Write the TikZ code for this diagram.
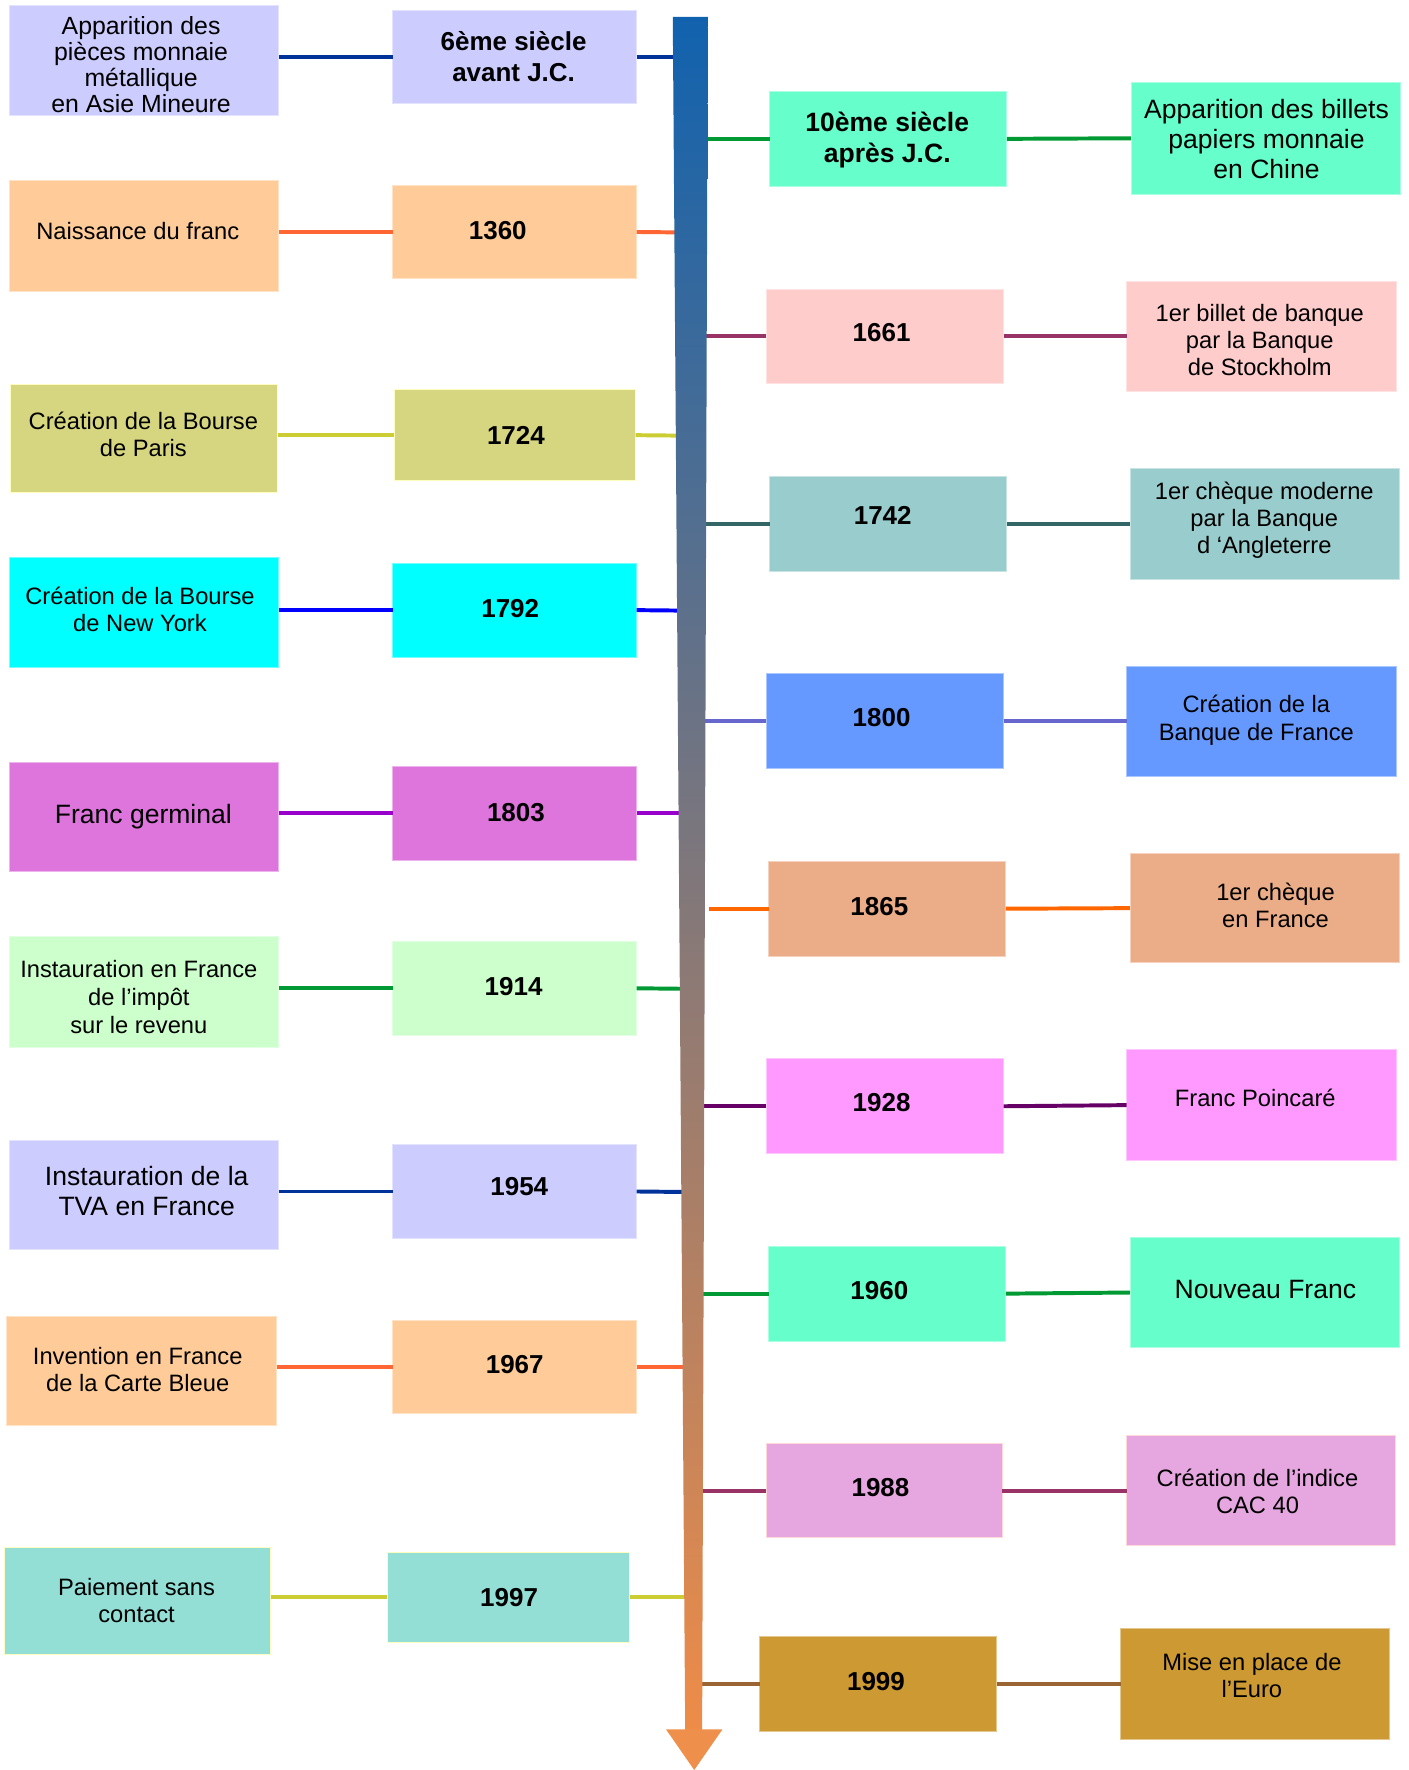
\documentclass[tikz,border=0pt]{standalone}
\usepackage{fontspec}
\setmainfont{Liberation Sans}
\definecolor{lav}{HTML}{CCCCFF}
\definecolor{peach}{HTML}{FFCC99}
\definecolor{khaki}{HTML}{D6D680}
\definecolor{cyanb}{HTML}{00FFFF}
\definecolor{orchidb}{HTML}{DD75DD}
\definecolor{mintl}{HTML}{CCFFCC}
\definecolor{tealb}{HTML}{93DFD6}
\definecolor{aqua}{HTML}{66FFCC}
\definecolor{pinkl}{HTML}{FFCCCC}
\definecolor{grayteal}{HTML}{99CCCC}
\definecolor{blueb}{HTML}{6699FF}
\definecolor{salmonb}{HTML}{EBAD88}
\definecolor{pinkb}{HTML}{FF99FF}
\definecolor{mauveb}{HTML}{E6A6E0}
\definecolor{goldb}{HTML}{CC9933}
\definecolor{navyl}{HTML}{003399}
\definecolor{orangel}{HTML}{FF6633}
\definecolor{olivel}{HTML}{CCCC33}
\definecolor{bluel}{HTML}{0000FF}
\definecolor{purplel}{HTML}{9900CC}
\definecolor{greenl}{HTML}{009933}
\definecolor{maroonl}{HTML}{993366}
\definecolor{tealdl}{HTML}{336666}
\definecolor{periwl}{HTML}{6666CC}
\definecolor{orangeb}{HTML}{FF6600}
\definecolor{plumd}{HTML}{660066}
\definecolor{brownl}{HTML}{996633}
\definecolor{bartop}{HTML}{1162AE}
\definecolor{barmid}{HTML}{7D7088}
\definecolor{barbot}{HTML}{EE8C48}
\definecolor{headc}{HTML}{EE904C}
\tikzset{
  bx/.style={rectangle, inner sep=0pt, outer sep=0pt, anchor=north west,
    line width=0.8pt, fill=#1, draw=#1!55!white},
  wh/.style 2 args={minimum width=#1pt, minimum height=#2pt},
  ev/.style={align=center, inner sep=0pt, font=\fontsize{21}{24}\selectfont},
  evb/.style={align=center, inner sep=0pt, font=\fontsize{23.5}{27}\selectfont},
  yr/.style={align=center, inner sep=0pt, font=\bfseries\fontsize{23}{27}\selectfont},
  conn/.style={line width=3.5pt}
}
\begin{document}
\begin{tikzpicture}[x=1pt,y=-1pt]
\useasboundingbox (0,0) rectangle (1248,1568);

% ---------- left column ----------
\node[bx=lav,wh={239}{97}] (L1) at (8,5) {};
\node[ev, font=\fontsize{22}{23}\selectfont] (L1t) at (125,57) {Apparition des\\pièces monnaie\\métallique\\en Asie Mineure};
\node[bx=lav,wh={216}{83}] (Y1) at (348,9) {};
\node[yr] (Y1t) at (455,50) {6ème siècle\\avant J.C.};

\node[bx=peach,wh={239}{98}] (L2) at (8,160) {};
\node[ev] (L2t) at (122,205) {Naissance du franc};
\node[bx=peach,wh={216}{83}] (Y2) at (348,164) {};
\node[yr] (Y2t) at (441,204) {1360};

\node[bx=khaki,wh={237}{95}, draw=yellow!25!white] (L3) at (9,341) {};
\node[ev] (L3t) at (127,385) {Création de la Bourse\\de Paris};
\node[bx=khaki,wh={214}{81}, draw=yellow!25!white] (Y3) at (349,345) {};
\node[yr] (Y3t) at (457,386) {1724};

\node[bx=cyanb,wh={239}{97}] (L4) at (8,494) {};
\node[ev] (L4t) at (124,540) {Création de la Bourse\\de New York};
\node[bx=cyanb,wh={216}{83}] (Y4) at (348,499) {};
\node[yr] (Y4t) at (452,539) {1792};

\node[bx=orchidb,wh={239}{97}] (L5) at (8,675) {};
\node[evb] (L5t) at (127,723) {Franc germinal};
\node[bx=orchidb,wh={216}{83}] (Y5) at (348,679) {};
\node[yr] (Y5t) at (457,720) {1803};

\node[bx=mintl,wh={239}{98}] (L6) at (8,830) {};
\node[ev, font=\fontsize{21}{25}\selectfont] (L6t) at (123,883) {Instauration en France\\de l’impôt\\sur le revenu};
\node[bx=mintl,wh={216}{83}] (Y6) at (348,834) {};
\node[yr] (Y6t) at (455,874) {1914};

\node[bx=lav,wh={239}{97}] (L7) at (8,1010) {};
\node[evb] (L7t) at (130,1055) {Instauration de la\\TVA en France};
\node[bx=lav,wh={216}{83}] (Y7) at (348,1014) {};
\node[yr] (Y7t) at (460,1051) {1954};

\node[bx=peach,wh={239}{97}] (L8) at (6,1166) {};
\node[ev] (L8t) at (122,1213) {Invention en France\\de la Carte Bleue};
\node[bx=peach,wh={216}{82}] (Y8) at (348,1170) {};
\node[yr] (Y8t) at (456,1209) {1967};

\node[bx=tealb,wh={236}{95}, draw=yellow!25!white] (L9) at (4,1371) {};
\node[ev] (L9t) at (121,1418) {Paiement sans\\contact};
\node[bx=tealb,wh={215}{80}, draw=yellow!25!white] (Y9) at (343,1375) {};
\node[yr] (Y9t) at (451,1415) {1997};

% ---------- right column ----------
\node[bx=aqua,wh={210}{84}] (RY1) at (682,81) {};
\node[yr, font=\bfseries\fontsize{23.5}{27}\selectfont] (RY1t) at (786,124) {10ème siècle\\après J.C.};
\node[bx=aqua,wh={239}{99}] (R1) at (1002,73) {};
\node[evb, font=\fontsize{23.5}{26.5}\selectfont] (R1t) at (1122,123) {Apparition des billets\\papiers monnaie\\en Chine};

\node[bx=pinkl,wh={210}{84}] (RY2) at (679,256) {};
\node[yr] (RY2t) at (781,295) {1661};
\node[bx=pinkl,wh={239}{98}] (R2) at (998,249) {};
\node[ev] (R2t) at (1116,301) {1er billet de banque\\par la Banque\\de Stockholm};

\node[bx=grayteal,wh={210}{84}] (RY3) at (682,422) {};
\node[yr] (RY3t) at (782,457) {1742};
\node[bx=grayteal,wh={239}{98}] (R3) at (1001,415) {};
\node[ev] (R3t) at (1120,461) {1er chèque moderne\\par la Banque\\d ‘Angleterre};

\node[bx=blueb,wh={210}{84}] (RY4) at (679,597) {};
\node[yr] (RY4t) at (781,636) {1800};
\node[bx=blueb,wh={239}{98}] (R4) at (998,590) {};
\node[ev] (R4t) at (1113,638) {Création de la\\Banque de France};

\node[bx=salmonb,wh={210}{84}] (RY5) at (681,763) {};
\node[yr] (RY5t) at (779,803) {1865};
\node[bx=salmonb,wh={239}{97}] (R5) at (1001,756) {};
\node[ev] (R5t) at (1130,802) {1er chèque\\en France};

\node[bx=pinkb,wh={210}{84}] (RY6) at (679,938) {};
\node[yr] (RY6t) at (781,977) {1928};
\node[bx=pinkb,wh={239}{98}] (R6) at (998,930) {};
\node[ev] (R6t) at (1112,973) {Franc Poincaré};

\node[bx=aqua,wh={210}{84}] (RY7) at (681,1104) {};
\node[yr] (RY7t) at (779,1143) {1960};
\node[bx=aqua,wh={239}{98}] (R7) at (1001,1096) {};
\node[evb] (R7t) at (1121,1142) {Nouveau Franc};

\node[bx=mauveb,wh={209}{83}, draw=pink!60!white] (RY8) at (679,1279) {};
\node[yr] (RY8t) at (780,1318) {1988};
\node[bx=mauveb,wh={238}{97}, draw=pink!60!white] (R8) at (998,1272) {};
\node[ev] (R8t) at (1114,1321) {Création de l’indice\\CAC 40};

\node[bx=goldb,wh={210}{84}] (RY9) at (673,1450) {};
\node[yr] (RY9t) at (776,1490) {1999};
\node[bx=goldb,wh={238}{98}] (R9) at (993,1443) {};
\node[ev] (R9t) at (1109,1484) {Mise en place de\\l’Euro};

% ---------- bar attachment points ----------
\coordinate (B1) at (612,50.5);
\coordinate (B2) at (612,206);
\coordinate (B3) at (612,386);
\coordinate (B4) at (612,541);
\coordinate (B5) at (612,720.5);
\coordinate (B6) at (612,876);
\coordinate (B7) at (612,1056);
\coordinate (B8) at (612,1211);
\coordinate (B9) at (614,1415);
\coordinate (C1) at (612,123);
\coordinate (C2) at (612,298);
\coordinate (C3) at (612,464);
\coordinate (C4) at (612,639);
\coordinate (C5) at (628,805);
\coordinate (C6) at (612,980);
\coordinate (C7) at (614,1146);
\coordinate (C8) at (614,1320.5);
\coordinate (C9) at (614,1492);

% ---------- connectors ----------
\draw[conn,navyl]   (L1.east |- Y1.west) -- (Y1.west);  \draw[conn,navyl]   (Y1.east) -- (B1);
\draw[conn,orangel] (L2.east |- Y2.west) -- (Y2.west);  \draw[conn,orangel] (Y2.east) -- (B2);
\draw[conn,olivel]  (L3.east |- Y3.west) -- (Y3.west);  \draw[conn,olivel]  (Y3.east) -- (B3);
\draw[conn,bluel]   (L4.east |- Y4.west) -- (Y4.west);  \draw[conn,bluel]   (Y4.east) -- (B4);
\draw[conn,purplel] (L5.east |- Y5.west) -- (Y5.west);  \draw[conn,purplel] (Y5.east) -- (B5);
\draw[conn,greenl]  (L6.east |- Y6.west) -- (Y6.west);  \draw[conn,greenl]  (Y6.east) -- (B6);
\draw[conn,navyl]   (L7.east |- Y7.west) -- (Y7.west);  \draw[conn,navyl]   (Y7.east) -- (B7);
\draw[conn,orangel] (L8.east |- Y8.west) -- (Y8.west);  \draw[conn,orangel] (Y8.east) -- (B8);
\draw[conn,olivel]  (L9.east |- Y9.west) -- (Y9.west);  \draw[conn,olivel]  (Y9.east) -- (B9);

\draw[conn,greenl]  (C1) -- (RY1.west);  \draw[conn,greenl]  (RY1.east) -- (R1.west);
\draw[conn,maroonl] (C2) -- (RY2.west);  \draw[conn,maroonl] (RY2.east) -- (R2.west);
\draw[conn,tealdl]  (C3) -- (RY3.west);  \draw[conn,tealdl]  (RY3.east) -- (R3.west);
\draw[conn,periwl]  (C4) -- (RY4.west);  \draw[conn,periwl]  (RY4.east) -- (R4.west);
\draw[conn,orangeb] (C5) -- (RY5.west);  \draw[conn,orangeb] (RY5.east) -- (R5.west);
\draw[conn,plumd]   (C6) -- (RY6.west);  \draw[conn,plumd]   (RY6.east) -- (R6.west);
\draw[conn,greenl]  (C7) -- (RY7.west);  \draw[conn,greenl]  (RY7.east) -- (R7.west);
\draw[conn,maroonl] (C8) -- (RY8.west);  \draw[conn,maroonl] (RY8.east) -- (R8.west);
\draw[conn,brownl]  (C9) -- (RY9.west);  \draw[conn,brownl]  (RY9.east) -- (R9.west);

% ---------- time bar ----------
\shade[top color=bartop, middle color=barmid, bottom color=barbot]
  (596,15) -- (627,15) -- (622,1533) -- (607,1533) -- cycle;
\fill[headc] (590,1532) -- (640,1532) -- (615,1568) -- cycle;
\end{tikzpicture}
\end{document}
